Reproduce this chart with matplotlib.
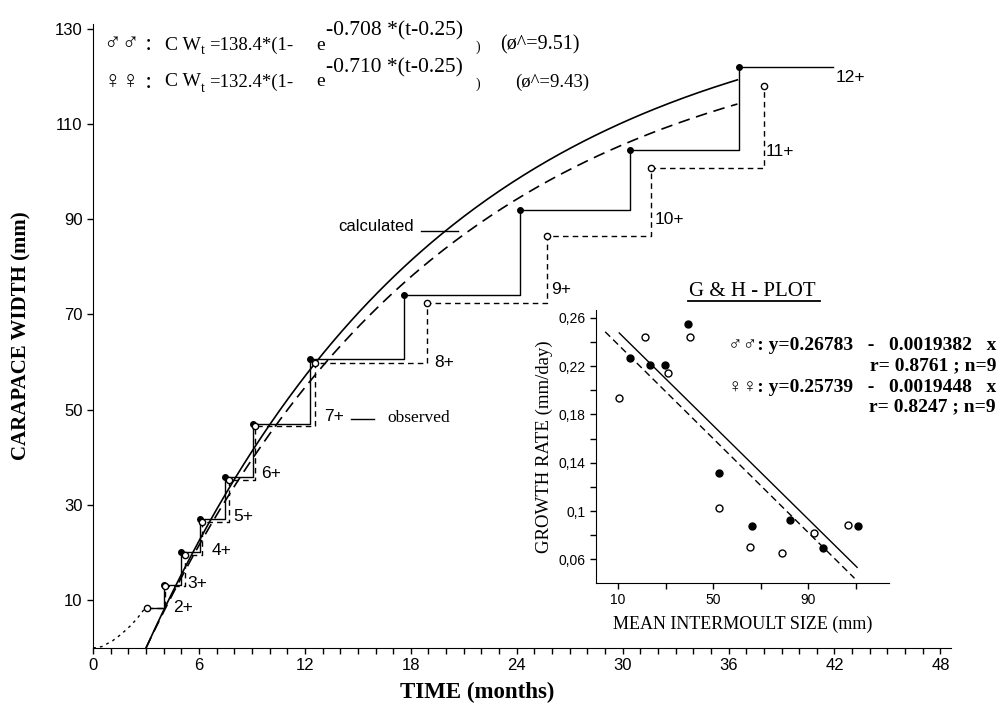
import numpy as np
import matplotlib.pyplot as plt
from matplotlib.ticker import MultipleLocator, FixedLocator
from matplotlib.lines import Line2D

SERIF = ['Liberation Serif', 'DejaVu Serif']
SANS = ['Liberation Sans', 'DejaVu Sans']

# observed moults (time in months, carapace width in mm)
instars = [2, 3, 4, 5, 6, 7, 8, 9, 10, 11, 12]
male_t = [3.05, 4.0, 5.0, 6.05, 7.5, 9.05, 12.3, 17.6, 24.2, 30.4, 36.6]
male_cw = [8.3, 13.3, 20.1, 27.0, 35.8, 47.1, 60.6, 74.0, 92.0, 104.6, 121.9]
male_end_t = 41.9
female_t = [3.05, 4.1, 5.2, 6.2, 7.7, 9.2, 12.6, 18.9, 25.7, 31.6, 38.0]
female_cw = [8.3, 13.0, 19.5, 26.5, 35.3, 46.5, 59.8, 72.5, 86.5, 100.8, 117.9]

# dotted extrapolation towards the origin
early_t = [0, 0.5, 1.1, 1.6, 2.1, 2.5, 2.85, 3.05]
early_cw = [0, 0.3, 1.5, 2.9, 4.6, 6.2, 7.9, 8.3]

# von Bertalanffy fits given on the chart (t in years)
male_linf, male_k = 138.4, 0.708
female_linf, female_k = 132.4, 0.710
t0 = 0.25
curve_start, curve_end = 3.0, 36.5

# G & H plot data
male_size = [15.2, 23.3, 29.9, 39.5, 52.6, 66.5, 82.5, 96.3, 110.8]
male_rate = [0.227, 0.221, 0.221, 0.2545, 0.1316, 0.0875, 0.093, 0.0695, 0.0881]
female_size = [10.2, 21.5, 31.1, 40.1, 52.4, 65.4, 79.0, 92.3, 106.8]
female_rate = [0.194, 0.2443, 0.2145, 0.2443, 0.103, 0.0704, 0.0654, 0.082, 0.0883]
male_a, male_b = 0.26783, 0.0019382
female_a, female_b = 0.25739, 0.0019448

W, H = 1007, 711
fig = plt.figure(figsize=(W / 100, H / 100), dpi=100)
ax = fig.add_axes([0.0924, 0.0886, 0.852, 0.878])


def ptext(x, y, s, **kw):
    # place text at reference pixel coordinates
    kw.setdefault('family', SERIF)
    kw.setdefault('va', 'center')
    fig.text(x / W, 1 - y / H, s, **kw)


# calculated curves
tt = np.linspace(curve_start, curve_end, 200)
ax.plot(tt, male_linf * (1 - np.exp(-male_k * (tt / 12 - t0))), color='black', lw=1.2)
ax.plot(tt, female_linf * (1 - np.exp(-female_k * (tt / 12 - t0))), color='black', lw=1.2,
        dashes=(7, 4))
ax.plot(early_t, early_cw, color='black', lw=1.0, ls=(0, (2, 3)))

# observed steps
ax.plot(male_t + [male_end_t], male_cw + [male_cw[-1]], drawstyle='steps-post',
        color='black', lw=1.0)
ax.plot(female_t, female_cw, drawstyle='steps-post', color='black', lw=1.0, dashes=(4, 3))
ax.plot(male_t[1:], male_cw[1:], 'o', color='black', ms=4)
ax.plot(female_t, female_cw, 'o', mfc='white', mec='black', ms=4.5, mew=1.0)

label_t = [5.1, 5.9, 7.3, 8.5, 10.1, 13.65, 19.9, 26.5, 32.65, 38.9, 42.9]
label_cw = [8.5, 13.5, 20.4, 27.5, 36.7, 48.5, 60, 75.2, 90, 104.2, 119.8]
for n, x, y in zip(instars, label_t, label_cw):
    ax.text(x, y, f"{n}+", ha='center', va='center', fontsize=12.5, family=SANS)

ax.plot([18.6, 20.7], [87.5, 87.5], color='black', lw=1.0)
ax.text(18.2, 88.4, "calculated", ha='right', va='center', fontsize=12, family=SANS)
ax.plot([14.6, 15.9], [48.1, 48.1], color='black', lw=1.0)
ax.text(16.7, 48.3, "observed", ha='left', va='center', fontsize=12.5, family=SERIF)

ax.set_xlim(0, 48.6)
ax.set_ylim(0, 131)
ax.xaxis.set_major_locator(MultipleLocator(6))
ax.xaxis.set_minor_locator(MultipleLocator(1))
ax.yaxis.set_major_locator(FixedLocator([10, 30, 50, 70, 90, 110, 130]))
ax.tick_params(which='both', length=4, width=1, labelsize=12, direction='out')
for lab in ax.get_xticklabels() + ax.get_yticklabels():
    lab.set_family(SANS)
ax.spines[['top', 'right']].set_visible(False)
ax.set_xlabel("TIME (months)", fontsize=16.5, fontweight='bold', family=SERIF)
ax.xaxis.set_label_coords(0.448, -0.055)
ax.set_ylabel("CARAPACE WIDTH (mm)", fontsize=15, fontweight='bold', family=SERIF)
ax.yaxis.set_label_coords(-0.072, 0.5)

# equations at the top, built piece by piece
for y, sym, a, k, sig, sx in [(45, "♂♂", "138.4", "0.708", "9.51", 500),
                              (82, "♀♀", "132.4", "0.710", "9.43", 515)]:
    ptext(104, y, sym + " :", fontsize=17)
    ptext(165, y, "C W", fontsize=14)
    ptext(201, y + 6, "t", fontsize=10)
    ptext(209, y, "=" + a + "*(1-", fontsize=13.5)
    ptext(316, y, "e", fontsize=14)
    ptext(326, y - 14, "-" + k + " *(t-0.25)", fontsize=15.5)
    ptext(476, y + 2, ")", fontsize=10)
    ptext(sx, y, "(ø^=" + sig + ")", fontsize=14.5 if sx == 500 else 13.5)

# inset: G & H plot
ins = fig.add_axes([0.5918, 0.180, 0.291, 0.384])
xs = np.array([10.5, 110.6])
ins.plot(xs, male_a - male_b * xs, color='black', lw=1.0)
xs = np.array([4.6, 109.5])
ins.plot(xs, female_a - female_b * xs, color='black', lw=1.0, dashes=(5, 3))
ins.plot(male_size, male_rate, 'o', color='black', ms=5)
ins.plot(female_size, female_rate, 'o', mfc='white', mec='black', ms=5, mew=1.0)
ins.set_xlim(0.7, 124)
ins.set_ylim(0.0405, 0.2665)
ins.xaxis.set_major_locator(FixedLocator([10, 50, 90]))
ins.xaxis.set_minor_locator(FixedLocator([30, 70, 110]))
ins.yaxis.set_major_locator(FixedLocator([0.06, 0.10, 0.14, 0.18, 0.22, 0.26]))
ins.yaxis.set_minor_locator(FixedLocator([0.08, 0.12, 0.16, 0.20, 0.24]))
ins.set_yticklabels(["0,06", "0,1", "0,14", "0,18", "0,22", "0,26"])
ins.tick_params(which='both', length=4, width=1, labelsize=10, direction='out')
for lab in ins.get_xticklabels() + ins.get_yticklabels():
    lab.set_family(SANS)
ins.spines[['top', 'right']].set_visible(False)
ins.set_facecolor('none')
ins.set_xlabel("MEAN INTERMOULT SIZE (mm)", fontsize=13, family=SERIF, labelpad=6)
ins.set_ylabel("GROWTH RATE (mm/day)", fontsize=13.5, family=SERIF, labelpad=4)

ptext(752, 291, "G & H - PLOT", ha='center', fontsize=15)
fig.add_artist(Line2D([688 / W, 820 / W], [1 - 301 / H, 1 - 301 / H], color='black', lw=1.3))

for y, s in [(345, "♂♂: y=0.26783   -   0.0019382   x"), (366, "r= 0.8761 ; n=9"),
             (387, "♀♀: y=0.25739   -   0.0019448   x"), (407, "r= 0.8247 ; n=9")]:
    ptext(996, y, s, ha='right', fontsize=14, fontweight='bold')

fig.savefig("out.png", dpi=100)
